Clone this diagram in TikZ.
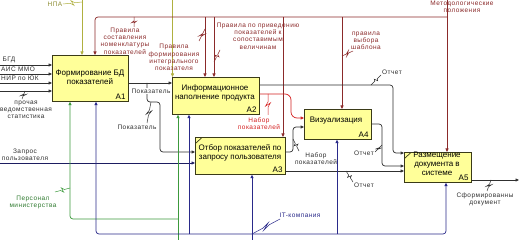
\documentclass[tikz,border=0pt]{standalone}
\usepackage{fontspec}
\setmainfont{Liberation Sans}
\newfontfamily\lblfont{Liberation Sans}[LetterSpace=7]
\usetikzlibrary{arrows.meta,calc}
\definecolor{boxfill}{HTML}{FFFF99}
\definecolor{boxline}{HTML}{3A3A18}
\definecolor{dred}{HTML}{8B2A2A}
\definecolor{rred}{HTML}{D42020}
\definecolor{grn}{HTML}{3C9A3C}
\definecolor{itblue}{HTML}{2A2A8A}
\definecolor{olv}{HTML}{B0B040}
\definecolor{ink}{HTML}{303030}
\newcommand\zzv[2]{\draw[sq] (#1) -- ($(#1)!0.38!(#2)$) -- ($(#1)!0.58!(#2)+(2.5,0)$) -- ($(#1)!0.42!(#2)+(-2.5,0)$) -- ($(#1)!0.62!(#2)$) -- (#2);}
\newcommand\zzh[2]{\draw[sq] (#1) -- ($(#1)!0.38!(#2)$) -- ($(#1)!0.58!(#2)+(0,2.5)$) -- ($(#1)!0.42!(#2)+(0,-2.5)$) -- ($(#1)!0.62!(#2)$) -- (#2);}
\begin{document}
\begin{tikzpicture}[x=1pt,y=-1pt,
  box/.style={draw=boxline, fill=boxfill, line width=0.7pt, inner sep=0pt, anchor=north west},
  btxt/.style={font=\fontsize{8}{9.2}\selectfont, align=center, inner sep=0pt, text=black},
  anum/.style={font=\fontsize{8}{9}\selectfont, inner sep=0pt, text=black},
  lbl/.style={font=\lblfont\fontsize{6.5}{7.2}\selectfont, align=center, inner sep=0pt},
  ln/.style={line width=0.7pt, rounded corners=3pt},
  arr/.style={ln, -{Triangle[length=3.5pt,width=3pt]}},
  sq/.style={line width=0.5pt}
]
\useasboundingbox[fill=white] (0,0) rectangle (519,240);

% ---------- boxes
\node[box, minimum width=76pt, minimum height=46pt] (A1) at (52,55) {};
\node[box, minimum width=87pt, minimum height=37pt] (A2) at (172,77) {};
\node[box, minimum width=90pt, minimum height=37pt] (A3) at (195,137) {};
\node[box, minimum width=67pt, minimum height=30pt] (A4) at (304,109) {};
\node[box, minimum width=67pt, minimum height=30pt] (A5) at (404,152) {};

\node[btxt] (t1) at (90,77) {Формирование БД\\показателей};
\node[btxt] (t2) at (215,93) {Информационное\\наполнение продукта};
\node[btxt] (t3) at (240,152.5) {Отбор показателей по\\запросу пользователя};
\node[btxt] (t4) at (336,121) {Визуализация};
\node[btxt] (t5) at (437,164) {Размещение\\документа в\\системе};

\node[anum, anchor=south east] (n1) at ($(A1.south east)+(-3,-2)$) {A1};
\node[anum, anchor=south east] (n2) at ($(A2.south east)+(-3,-2)$) {A2};
\node[anum, anchor=south east] (n3) at ($(A3.south east)+(-3,-2)$) {A3};
\node[anum, anchor=south east] (n4) at ($(A4.south east)+(-3,-2)$) {A4};
\node[anum, anchor=south east] (n5) at ($(A5.south east)+(-3,-2)$) {A5};

\draw[boxline, line width=0.7pt] ($(A3.north west)+(1,6)$) -- ($(A3.north west)+(7,0.5)$);
\draw[boxline, line width=0.7pt] ($(A5.north west)+(1,6)$) -- ($(A5.north west)+(7,0.5)$);

% ---------- inputs of A1
\coordinate (i1) at (0,65);
\coordinate (i2) at (0,74);
\coordinate (i3) at (0,83);
\coordinate (i4) at (0,91);
\foreach \c in {i1,i2,i3,i4} \draw[arr, ink] (\c) -- (A1.west |- \c);
\node[lbl, text=ink] (l1) at (9,59.5) {БГД};
\node[lbl, text=ink] (l2) at (18,69) {АИС ММО};
\node[lbl, text=ink] (l3) at (20,78.5) {НИР по ЮК};
\node[lbl, text=ink] (l4) at (26,109.5) {прочая\\ведомственная\\статистика};
\coordinate (l4a) at (22,99);
\coordinate (l4b) at (25,91);
\begin{scope}[ink] \zzv{l4a}{l4b} \end{scope}

% ---------- query input to A3
\coordinate (iq) at (0,163);
\draw[arr, itblue!70!black] (iq) -- (A3.west |- iq);
\node[lbl, text=ink] (lq) at (25,154.5) {Запрос\\пользователя};

% ---------- НПА (olive)
\coordinate (np1) at (82,0);
\coordinate (np2) at (172.5,0);
\draw[arr, olv] (np1) -- (A1.north -| np1);
\draw[arr, olv] (np2) -- (A2.north -| np2);
\node[lbl, text=olv!80!black] (lnpa) at (55,4.5) {НПА};
\coordinate (npa) at (63,4);
\coordinate (npb) at (82,2);
\begin{scope}[olv] \zzh{npa}{npb} \end{scope}

% ---------- Методологические положения bus (dark red)
\coordinate (mp) at (447,0);
\coordinate (bus) at (447,17);
\coordinate (b95) at (95,17);
\draw[arr, dred] (mp) -- (A5.north -| mp);
\draw[arr, dred] (bus) -- (b95) -- (A1.north -| b95);
\coordinate (b205) at (205,17);
\coordinate (b214) at (214,17);
\coordinate (b283) at (283,17);
\coordinate (b342) at (342,17);
\draw[arr, dred] (b205) -- (A2.north -| b205);
\draw[arr, dred] (b214) -- (A2.north -| b214);
\draw[arr, dred] (b283) -- (A3.north -| b283);
\draw[arr, dred] (b342) -- (A4.north -| b342);

\node[lbl, text=dred] (lm) at (462,6.8) {Методологические\\положения};
\node[lbl, text=dred] (lc1) at (125,41) {Правила\\составления\\номенклатуры\\показателей};
\node[lbl, text=dred] (lc2) at (174,57.5) {Правила\\формирования\\интегрального\\показателя};
\node[lbl, text=dred] (lc3) at (258,36) {Правила по приведению\\показателей к\\сопоставимым\\величинам};
\node[lbl, text=dred] (lc4) at (366,40.5) {правила\\выбора\\шаблона};
\coordinate (s1a) at (134,27); \coordinate (s1b) at (134,17);
\coordinate (s2a) at (199,41); \coordinate (s2b) at (205,29);
\coordinate (s3a) at (220,50); \coordinate (s3b) at (214,62);
\coordinate (s4a) at (353,51); \coordinate (s4b) at (342,56);
\begin{scope}[dred]
\zzv{s1a}{s1b} \zzv{s2a}{s2b} \zzv{s3a}{s3b} \zzh{s4a}{s4b}
\end{scope}

% ---------- A1 output Показатель
\coordinate (o1) at (147,83);
\draw[arr, ink] (A1.east |- o1) -- (A2.west |- o1);
\coordinate (o1b) at (147,102);
\coordinate (o1c) at (160,102);
\coordinate (o1d) at (160,152);
\draw[arr, ink] (o1) -- (o1b) -- (o1c) -- (o1d) -- (A3.west |- o1d);
\node[lbl, text=ink, fill=white, inner sep=1pt] (lp1) at (151,91) {Показатель};
\node[lbl, text=ink] (lp2) at (137,127.5) {Показатель};
\coordinate (s5a) at (147,123); \coordinate (s5b) at (151,102);
\begin{scope}[ink] \zzv{s5a}{s5b} \end{scope}

% ---------- A2 outputs
\coordinate (o2r) at (259,94);
\coordinate (o2r1) at (291,94);
\coordinate (o2r2) at (297,118);
\draw[arr, rred, rounded corners=6pt] (A2.east |- o2r) -- (o2r1) -- (o2r1 |- o2r2) -- (A4.west |- o2r2);
\node[lbl, text=rred] (lr) at (259,124) {Набор\\показателей};
\coordinate (s6a) at (268,115); \coordinate (s6b) at (268,94);
\begin{scope}[rred] \zzv{s6a}{s6b} \end{scope}

\coordinate (o2k) at (259,85);
\coordinate (o2k1) at (393,85);
\coordinate (o2k2) at (393,153);
\draw[arr, ink] (A2.east |- o2k) -- (o2k1) -- (o2k2) -- (A5.west |- o2k2);
\node[lbl, text=ink] (lo1) at (392,72) {Отчет};
\coordinate (s7a) at (381,75); \coordinate (s7b) at (371,85);
\begin{scope}[ink] \zzv{s7a}{s7b} \end{scope}

% ---------- A3 outputs
\coordinate (o3n) at (285,152);
\coordinate (o3n1) at (293,152);
\coordinate (o3n2) at (293,127);
\draw[arr, ink] (A3.east |- o3n) -- (o3n1) -- (o3n2) -- (A4.west |- o3n2);
\node[lbl, text=ink] (ln3) at (316,158.5) {Набор\\показателей};
\coordinate (s8a) at (299,151); \coordinate (s8b) at (293,139);
\begin{scope}[ink] \zzv{s8a}{s8b} \end{scope}

\coordinate (o3o) at (285,171);
\draw[arr, ink] (A3.east |- o3o) -- (A5.west |- o3o);
\node[lbl, text=ink] (lo3) at (364,185) {Отчет};
\coordinate (s9a) at (353,182); \coordinate (s9b) at (346,171);
\begin{scope}[ink] \zzv{s9a}{s9b} \end{scope}

% ---------- A4 output
\coordinate (o4) at (371,124);
\coordinate (o4a) at (382,124);
\coordinate (o4b) at (382,166);
\draw[arr, ink] (A4.east |- o4) -- (o4a) -- (o4b) -- (A5.west |- o4b);
\node[lbl, text=ink] (lo4) at (364,153) {Отчет};
\coordinate (s10a) at (375,152); \coordinate (s10b) at (382,145);
\begin{scope}[ink] \zzv{s10a}{s10b} \end{scope}

% ---------- A5 output
\coordinate (o5) at (519,180);
\draw[arr, ink] (A5.east |- o5) -- (o5);
\node[lbl, text=ink] (lo5) at (485,199.5) {Сформированны\\документ};
\coordinate (s11a) at (487,191); \coordinate (s11b) at (491,180);
\begin{scope}[ink] \zzv{s11a}{s11b} \end{scope}

% ---------- mechanisms: Персонал министерства (green)
\coordinate (g0) at (178,240);
\coordinate (g1) at (178,219);
\coordinate (g2) at (70,219);
\draw[arr, grn] (g0) -- (A2.south -| g0);
\draw[arr, grn] (g1) -- (g2) -- (A1.south -| g2);
\node[lbl, text=grn!80!black] (lg) at (33,202.5) {Персонал\\министерства};
\coordinate (s12a) at (55,192); \coordinate (s12b) at (70,188);
\begin{scope}[grn] \zzh{s12a}{s12b} \end{scope}

% ---------- mechanisms: IT-компания (navy)
\coordinate (it0) at (252,240);
\coordinate (itb) at (252,234);
\coordinate (itL) at (96,234);
\coordinate (itR) at (446,234);
\coordinate (it2) at (189,234);
\coordinate (it4) at (337,234);
\draw[arr, itblue] (itb) -- (itL) -- (A1.south -| itL);
\draw[arr, itblue] (itb) -- (itR) -- (A5.south -| itR);
\draw[arr, itblue] (it2) -- (A2.south -| it2);
\draw[arr, itblue] (it0) -- (A3.south -| it0);
\draw[arr, itblue] (it4) -- (A4.south -| it4);
\node[lbl, text=itblue] (lit) at (300,215) {IT-компания};
\coordinate (s13a) at (280,219); \coordinate (s13b) at (252,234);
\begin{scope}[itblue] \zzh{s13a}{s13b} \end{scope}
\end{tikzpicture}
\end{document}
